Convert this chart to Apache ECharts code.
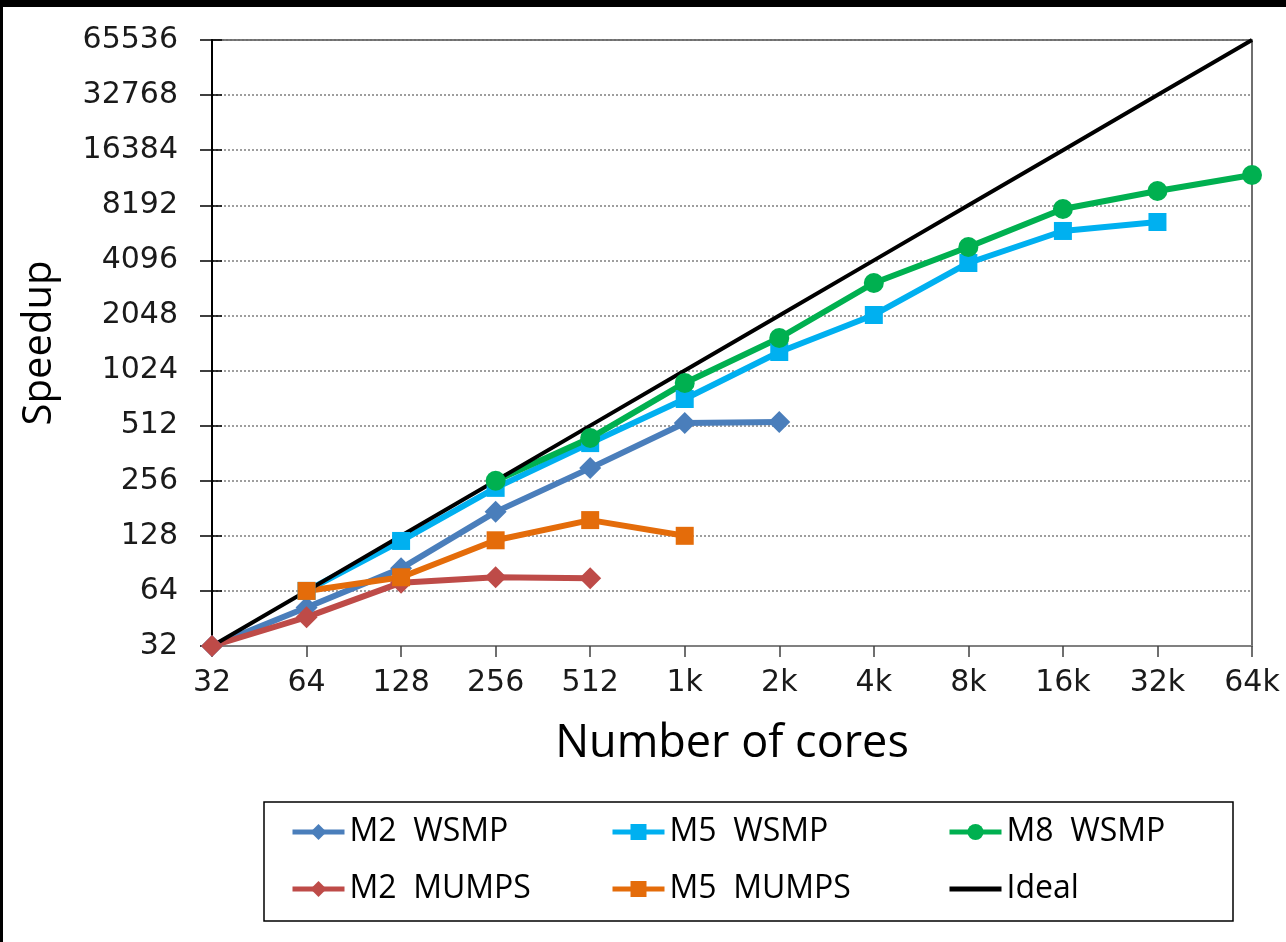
<!DOCTYPE html>
<html>
<head>
<meta charset="utf-8">
<script src="https://cdn.jsdelivr.net/npm/echarts@6/dist/echarts.min.js"></script>
<style>
  html, body { margin: 0; padding: 0; background: #000; }
  #chart { position: absolute; left: 3px; top: 7px; width: 1283px; height: 935px; background: #fff; }
</style>
</head>
<body>
<div id="chart"></div>
<script>
// number of cores (x categories)
const cores = ['32', '64', '128', '256', '512', '1k', '2k', '4k', '8k', '16k', '32k', '64k']

// speedup values
const m2Wsmp = [32, 52, 85, 173, 300, 529, 536, null, null, null, null, null]
const m5Wsmp = [null, 64, 120, 234, 411, 716, 1293, 2060, 3963, 5929, 6638, null]
const m8Wsmp = [null, null, null, 256, 438, 876, 1542, 3080, 4848, 7818, 9800, 11990]
const m2Mumps = [32, 46, 71, 76, 75, null, null, null, null, null, null, null]
const m5Mumps = [null, 64, 76, 121, 156, 128, null, null, null, null, null, null]
const ideal = [32, 64, 128, 256, 512, 1024, 2048, 4096, 8192, 16384, 32768, 65536]

const chart = echarts.init(document.getElementById('chart'))

const tickFont = { fontFamily: 'DejaVu Sans', fontSize: 30, color: '#1a1a1a' }
const legendText = { fontFamily: 'Open Sans', fontSize: 32, color: '#000', lineHeight: 36 }

function makeSeries(name, data, color, symbol, size) {
  return {
    name: name,
    type: 'line',
    data: data,
    symbol: symbol,
    symbolSize: size,
    lineStyle: { color: color, width: 6 },
    itemStyle: { color: color },
    connectNulls: false
  }
}

const yBase = {
  type: 'log',
  logBase: 2,
  min: 32,
  max: 65536,
  interval: 1,
  position: 'left'
}

function makeLegend(left, names) {
  return {
    orient: 'vertical', left: left, top: 807, padding: 0,
    itemWidth: 52, itemHeight: 20, itemGap: 21,
    lineStyle: { width: 5 },
    textStyle: legendText,
    data: names
  }
}

const option = {
  animation: false,
  backgroundColor: '#fff',
  grid: {
    left: 209, top: 33, right: 34, bottom: 296,
    show: true, borderColor: '#404040', borderWidth: 1.5
  },
  xAxis: {
    type: 'category',
    data: cores,
    boundaryGap: false,
    axisLine: { lineStyle: { color: '#808080', width: 2 } },
    axisTick: { alignWithLabel: true, length: 11, lineStyle: { color: '#404040', width: 1.5 } },
    axisLabel: Object.assign({ margin: 22 }, tickFont),
    splitLine: { show: false },
    name: 'Number of cores',
    nameLocation: 'middle',
    nameGap: 76,
    nameTextStyle: { fontFamily: 'Open Sans', fontSize: 45, color: '#000' }
  },
  yAxis: [
    Object.assign({}, yBase, {
      axisLine: { show: true, lineStyle: { color: '#000', width: 2 } },
      axisTick: { show: true, length: 12, lineStyle: { color: '#000', width: 1.5 } },
      axisLabel: Object.assign({
        margin: 34,
        formatter: v => String(Math.round(v))
      }, tickFont),
      splitLine: { show: true, lineStyle: { color: '#7f7f7f', width: 1.5, type: [2, 2] } },
      name: 'Speedup',
      nameLocation: 'middle',
      nameGap: 152,
      nameTextStyle: { fontFamily: 'Open Sans', fontSize: 40, color: '#000' }
    }),
    Object.assign({}, yBase, {
      axisLine: { show: false },
      axisTick: { show: true, inside: true, length: 10, lineStyle: { color: '#000', width: 1.5 } },
      axisLabel: { show: false },
      splitLine: { show: false }
    })
  ],
  legend: [
    makeLegend(287, ['M2  WSMP', 'M2  MUMPS']),
    makeLegend(607, ['M5  WSMP', 'M5  MUMPS']),
    makeLegend(944, ['M8  WSMP', { name: 'Ideal', itemStyle: { opacity: 0 } }])
  ],
  graphic: [
    {
      type: 'rect',
      shape: { x: 261, y: 795, width: 969, height: 119 },
      style: { fill: null, stroke: '#000', lineWidth: 1.5 },
      silent: true
    }
  ],
  series: [
    makeSeries('M2  WSMP', m2Wsmp, '#4a7ebb', 'diamond', [22, 22]),
    makeSeries('M5  WSMP', m5Wsmp, '#00b0f0', 'rect', 18),
    makeSeries('M8  WSMP', m8Wsmp, '#00b050', 'circle', 20),
    makeSeries('M2  MUMPS', m2Mumps, '#be4b48', 'diamond', [22, 22]),
    makeSeries('M5  MUMPS', m5Mumps, '#e46c0a', 'rect', 18),
    {
      name: 'Ideal',
      type: 'line',
      data: ideal,
      symbol: 'none',
      lineStyle: { color: '#000', width: 4 },
      itemStyle: { color: '#000' }
    }
  ]
}

chart.setOption(option)
</script>
</body>
</html>
